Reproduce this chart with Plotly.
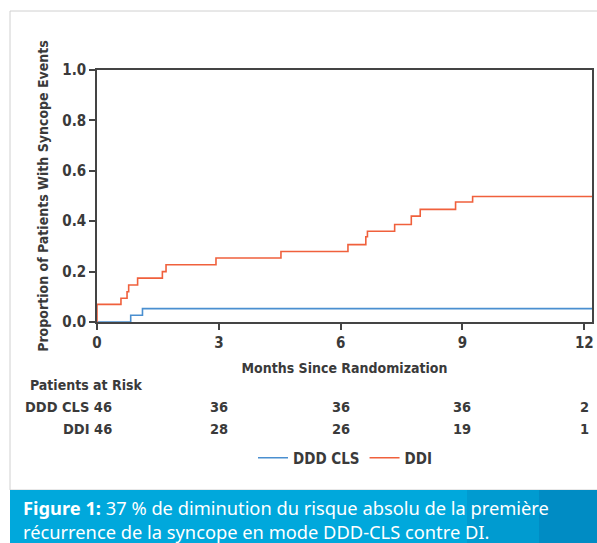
import plotly.graph_objects as go

# ---- data ----
ddi_months = [0, 0, 0.59, 0.74, 0.78, 1.00, 1.61, 1.70, 2.93, 4.53, 6.18, 6.62, 6.66, 7.33, 7.74, 7.96, 8.83, 9.25, 12.19]
ddi_prop   = [0, 0.07, 0.094, 0.12, 0.147, 0.174, 0.200, 0.227, 0.254, 0.280, 0.307, 0.338, 0.360, 0.387, 0.420, 0.447, 0.476, 0.498, 0.498]
cls_months = [0, 0.83, 1.12, 12.19]
cls_prop   = [0, 0.027, 0.053, 0.053]

risk_months = [3, 6, 9, 12]
risk_cls = [36, 36, 36, 2]
risk_ddi = [28, 26, 19, 1]
x_ticks = [0, 3, 6, 9, 12]
y_ticks = [0.0, 0.2, 0.4, 0.6, 0.8, 1.0]

W, H = 597, 543
L, R, T, B = 97, 592, 70, 322   # plot area in pixels


def px(xp):
    return (xp - L) / (R - L)


def py(yp):
    return (B - yp) / (B - T)


DARK = "#3a3a3a"
NARROW = "Liberation Sans Narrow, DejaVu Sans Condensed, Arial Narrow, sans-serif"
BLUE = "#4a8fd0"
RED = "#f0603c"

fig = go.Figure()
fig.add_trace(go.Scatter(x=cls_months, y=cls_prop, mode="lines", line_shape="hv",
                         line=dict(color=BLUE, width=1.6), name="DDD CLS"))
fig.add_trace(go.Scatter(x=ddi_months, y=ddi_prop, mode="lines", line_shape="hv",
                         line=dict(color=RED, width=1.6), name="DDI"))

font_lbl = dict(family=NARROW, size=15, color=DARK, weight="bold")

fig.update_xaxes(range=[0, 12.19], tickvals=x_ticks, ticks="outside", ticklen=6, tickwidth=1.5,
                 tickcolor="#444", showline=True, linecolor="#444", linewidth=1.6, mirror=True,
                 showgrid=False, zeroline=False, tickfont=font_lbl,
                 title=dict(text="Months Since Randomization",
                            font=dict(family=NARROW, size=14, color=DARK, weight="bold"), standoff=12))
fig.update_yaxes(range=[0, 1.0], tickvals=y_ticks, tickformat=".1f", ticks="outside", ticklen=6,
                 tickwidth=1.5, tickcolor="#444", showline=True, linecolor="#444", linewidth=1.6,
                 mirror=True, showgrid=False, zeroline=False, tickfont=font_lbl,
                 title=dict(text="Proportion of Patients With Syncope Events",
                            font=dict(family=NARROW, size=14, color=DARK, weight="bold"), standoff=10))

font_tab = dict(family=NARROW, size=14.5, color=DARK, weight="bold")
ann = []
ann.append(dict(text="Patients at Risk", xref="paper", yref="paper", x=px(28), y=py(385),
                xanchor="left", yanchor="middle", showarrow=False,
                font=dict(family=NARROW, size=14, color=DARK, weight="bold")))
ann.append(dict(text="DDD CLS 46", xref="paper", yref="paper", x=px(114), y=py(407),
                xanchor="right", yanchor="middle", showarrow=False, font=font_tab))
ann.append(dict(text="DDI 46", xref="paper", yref="paper", x=px(114), y=py(429),
                xanchor="right", yanchor="middle", showarrow=False, font=font_tab))
for m, a, b in zip(risk_months, risk_cls, risk_ddi):
    ann.append(dict(text=str(a), xref="x", yref="paper", x=m, y=py(407), xanchor="center",
                    yanchor="middle", showarrow=False, font=font_tab))
    ann.append(dict(text=str(b), xref="x", yref="paper", x=m, y=py(429), xanchor="center",
                    yanchor="middle", showarrow=False, font=font_tab))

cap_font = dict(family="Noto Sans, Open Sans, sans-serif", size=18.3, color="white")
ann.append(dict(text="<b>Figure 1:</b> 37 % de diminution du risque absolu de la première"
                     "<br>récurrence de la syncope en mode DDD-CLS contre DI.",
                xref="paper", yref="paper", x=px(21), y=py(519.5), xanchor="left", yanchor="middle",
                align="left", showarrow=False, font=cap_font))

shapes = [
    dict(type="rect", xref="paper", yref="paper", x0=px(10), x1=px(605), y0=py(490), y1=py(11),
         line=dict(color="#d0d0d0", width=1), fillcolor="rgba(0,0,0,0)", layer="below"),
    dict(type="rect", xref="paper", yref="paper", x0=px(10), x1=px(467), y0=py(545), y1=py(490),
         line=dict(width=0), fillcolor="#00a8dc", layer="below"),
    dict(type="rect", xref="paper", yref="paper", x0=px(467), x1=px(539), y0=py(545), y1=py(490),
         line=dict(width=0), fillcolor="#009bd0", layer="below"),
    dict(type="rect", xref="paper", yref="paper", x0=px(539), x1=px(600), y0=py(545), y1=py(490),
         line=dict(width=0), fillcolor="#008cc4", layer="below"),
]

fig.update_layout(
    width=W, height=H, margin=dict(l=L, r=W - R, t=T, b=H - B, autoexpand=False),
    paper_bgcolor="white", plot_bgcolor="white",
    showlegend=True,
    legend=dict(orientation="h", x=px(345), y=py(458), xanchor="center", yanchor="middle",
                font=dict(family=NARROW, size=15, color=DARK, weight="bold"),
                bgcolor="rgba(0,0,0,0)", itemwidth=30, tracegroupgap=0),
    annotations=ann, shapes=shapes,
)

fig.write_html("out.html", config={"displayModeBar": False},
               post_script="document.body.style.margin='0';document.body.style.overflow='hidden';")
